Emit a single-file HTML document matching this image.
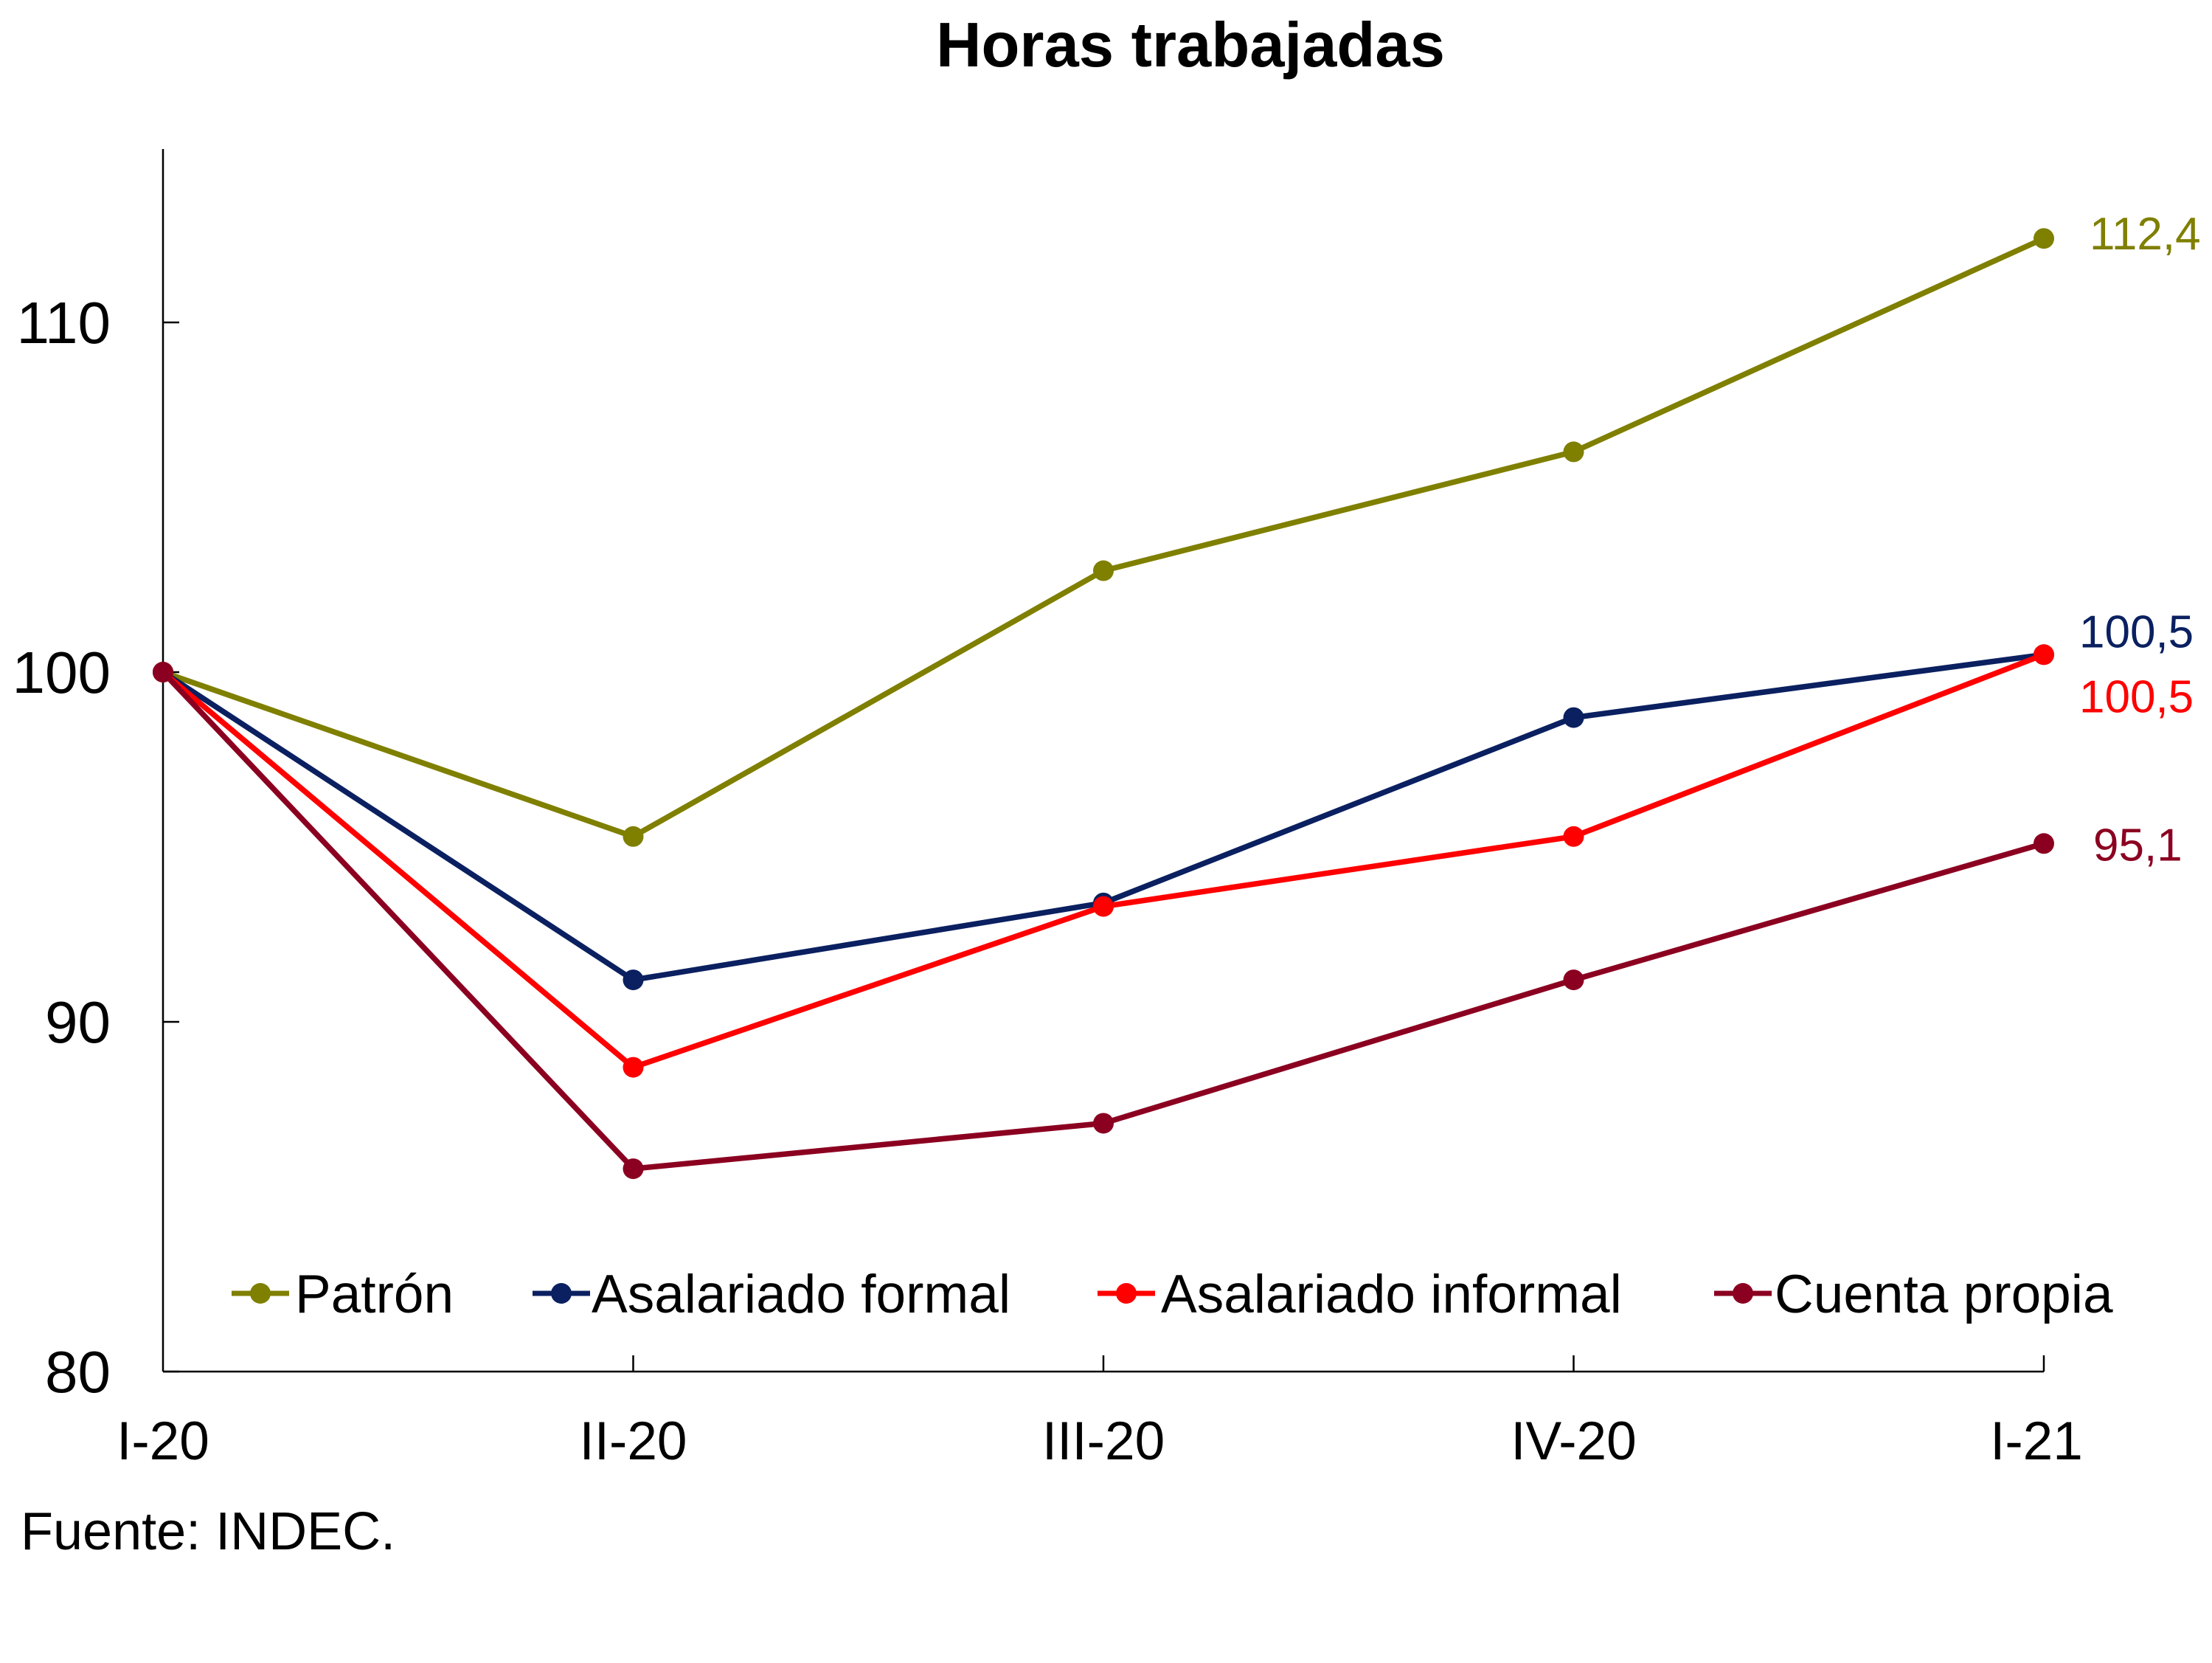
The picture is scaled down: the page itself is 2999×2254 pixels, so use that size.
<!DOCTYPE html>
<html><head><meta charset="utf-8"><style>
body{margin:0;background:#fff}
svg text{font-family:"Liberation Sans",sans-serif}
</style></head><body>
<svg id="chart" width="2999" height="2249" viewBox="0 0 2999 2249" xmlns="http://www.w3.org/2000/svg">
<text x="1614" y="90" text-anchor="middle" font-size="85" font-weight="bold">Horas trabajadas</text>
<g id="axes"></g><g id="series"></g>
<text x="28" y="2100" font-size="72">Fuente: INDEC.</text>
</svg>
<script>
const categories=["I-20","II-20","III-20","IV-20","I-21"];
const yTicks=[80,90,100,110];
const patron=[100,95.3,102.9,106.3,112.4];
const formal=[100,91.2,93.4,98.7,100.5];
const informal=[100,88.7,93.3,95.3,100.5];
const cuenta=[100,85.8,87.1,91.2,95.1];
const endLabels=["112,4","100,5","100,5","95,1"];
const legendNames=["Patrón","Asalariado formal","Asalariado informal","Cuenta propia"];

const NS="http://www.w3.org/2000/svg";
const x0=221,x1=2771,yTop=202,yBase=1859;
const xs=i=>x0+i*(x1-x0)/(categories.length-1);
const ys=v=>yBase-(v-80)*(yBase-911)/20;
function mk(t,a,p){const e=document.createElementNS(NS,t);for(const k in a)e.setAttribute(k,a[k]);p.appendChild(e);return e;}
const ax=document.getElementById('axes'),sg=document.getElementById('series');
let e=mk('line',{x1:x0,y1:yTop,x2:x0,y2:yBase,stroke:'#000','stroke-width':2.5},ax);

e=mk('line',{x1:x0,y1:yBase,x2:x1,y2:yBase,stroke:'#000','stroke-width':2.5},ax);

yTicks.forEach(v=>{
 const t=mk('line',{x1:x0,y1:ys(v),x2:x0+22,y2:ys(v),stroke:'#000','stroke-width':2.5},ax);
 
 const l=mk('text',{x:150,y:ys(v)+28,'text-anchor':'end','font-size':80},ax);l.textContent=v;
 
});
categories.forEach((c,i)=>{
 if(i>0){const t=mk('line',{x1:xs(i),y1:yBase,x2:xs(i),y2:yBase-22,stroke:'#000','stroke-width':2.5},ax);
 }
 const l=mk('text',{x:xs(i)-(i==4?10:0),y:1978,'text-anchor':'middle','font-size':73},ax);l.textContent=c;
 
});
const series=[patron,formal,informal,cuenta];
const colors=["#7f7f00","#0a2060","#ff0000","#8b0020"];
const labOff=[[62,15],[48,-10],[48,78],[67,23]];
const legX=[314,722,1488,2324],legTx=[400,802,1574,2406];
series.forEach((s,k)=>{
 const g=mk('g',{},sg);
 
 
 const p=mk('polyline',{points:s.map((v,i)=>xs(i)+','+ys(v)).join(' '),fill:'none',stroke:colors[k],'stroke-width':7.5,'stroke-linejoin':'round'},g);
 
 s.forEach((v,i)=>{const c=mk('circle',{cx:xs(i),cy:ys(v),r:14,fill:colors[k]},g);
  });
 const n=s.length-1;
 const t=mk('text',{x:xs(n)+labOff[k][0],y:ys(s[n])+labOff[k][1],'font-size':62,fill:colors[k]},g);t.textContent=endLabels[k];
 
 const lg=mk('g',{},sg);
 
 mk('line',{x1:legX[k],y1:1753,x2:legX[k]+78,y2:1753,stroke:colors[k],'stroke-width':7},lg);
 mk('circle',{cx:legX[k]+39,cy:1753,r:14,fill:colors[k]},lg);
 const lt=mk('text',{x:legTx[k],y:1779,'font-size':73},lg);lt.textContent=legendNames[k];
});
</script>
</body></html>
